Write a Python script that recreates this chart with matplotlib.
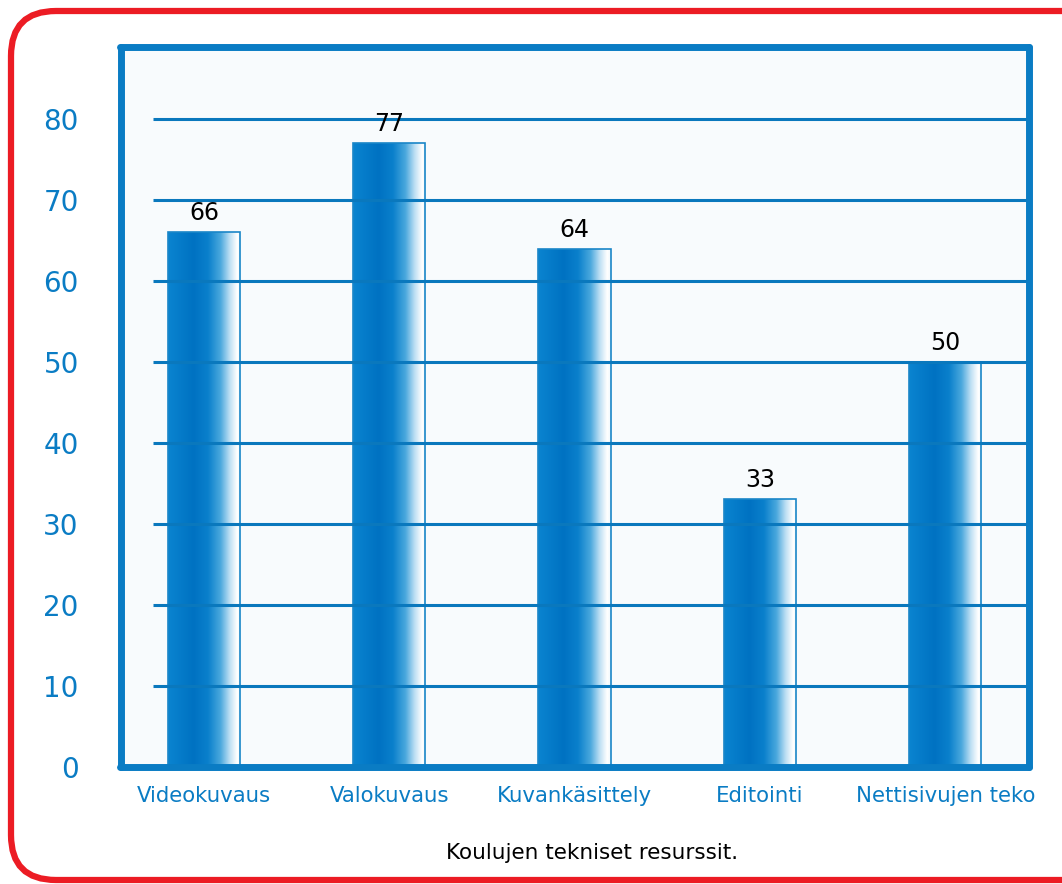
import numpy as np
import matplotlib
matplotlib.use("Agg")
import matplotlib.pyplot as plt
from matplotlib.colors import LinearSegmentedColormap
from matplotlib.patches import FancyBboxPatch

# Datos del gráfico
categories = ["Videokuvaus", "Valokuvaus", "Kuvankäsittely", "Editointi", "Nettisivujen teko"]
values = [66, 77, 64, 33, 50]
yticks = [0, 10, 20, 30, 40, 50, 60, 70, 80]
caption = "Koulujen tekniset resurssit."

blue = "#0a7cc4"
W, H = 1062, 884
fig = plt.figure(figsize=(W / 100, H / 100), dpi=100)

# Fondo con el borde rojo redondeado
bg = fig.add_axes([0, 0, 1, 1], zorder=0)
bg.set_xlim(0, W)
bg.set_ylim(H, 0)
bg.axis("off")
bg.add_patch(FancyBboxPatch((11, 11), 1120, 869, boxstyle="round,pad=0,rounding_size=45",
                            facecolor="white", edgecolor="#ec1c24", linewidth=4.5))

# Eje principal
ax = fig.add_axes([120.5 / W, 1 - 766.5 / H, 908 / W, 720 / H], zorder=1)
ax.set_facecolor("#f8fbfd")
ax.set_xlim(-0.4506, 4.4496)
ax.set_ylim(0, 88.96)
for s in ax.spines.values():
    s.set_color(blue)
    s.set_linewidth(5)
    s.set_capstyle("round")
    s.set_zorder(6)

# Barras con degradado
cmap = LinearSegmentedColormap.from_list("barra", [
    (0.0, "#0a84d0"), (0.35, "#0072c2"), (0.55, "#0a80cc"),
    (0.72, "#4aa8dd"), (0.85, "#bfe0f4"), (0.95, "#ffffff"), (1.0, "#f0f8fc")])
grad = np.linspace(0, 1, 256).reshape(1, -1)
x = np.arange(len(categories))
bars = ax.bar(x, values, width=0.39, facecolor="none", edgecolor="#1a86c8",
              linewidth=1.2, zorder=4)
for b in bars:
    x0, y0 = b.get_x(), b.get_y()
    im = ax.imshow(grad, cmap=cmap, aspect="auto", zorder=3,
                   extent=[x0, x0 + b.get_width(), y0, y0 + b.get_height()])
    im.set_clip_path(b)

# Líneas horizontales
ax.hlines(yticks[1:], -0.275, 4.4496, color="#0a78bd", linewidth=2.2, zorder=5)

# Valores encima de las barras
for xi, v in zip(x, values):
    ax.annotate(str(v), (xi, v), xytext=(0, 5), textcoords="offset points",
                ha="center", va="bottom", fontsize=17, color="black", zorder=7)

ax.set_yticks(yticks)
ax.set_yticklabels([str(t) for t in yticks], fontsize=20, color=blue)
ax.set_xticks(x)
ax.set_xticklabels(categories, fontsize=15.3, color=blue)
ax.tick_params(axis="y", length=0, pad=30)
ax.tick_params(axis="x", length=0, pad=14)

fig.text(592 / W, 1 - 853 / H, caption, ha="center", va="center", fontsize=15.5, color="black")

fig.savefig("out.png", dpi=100)
